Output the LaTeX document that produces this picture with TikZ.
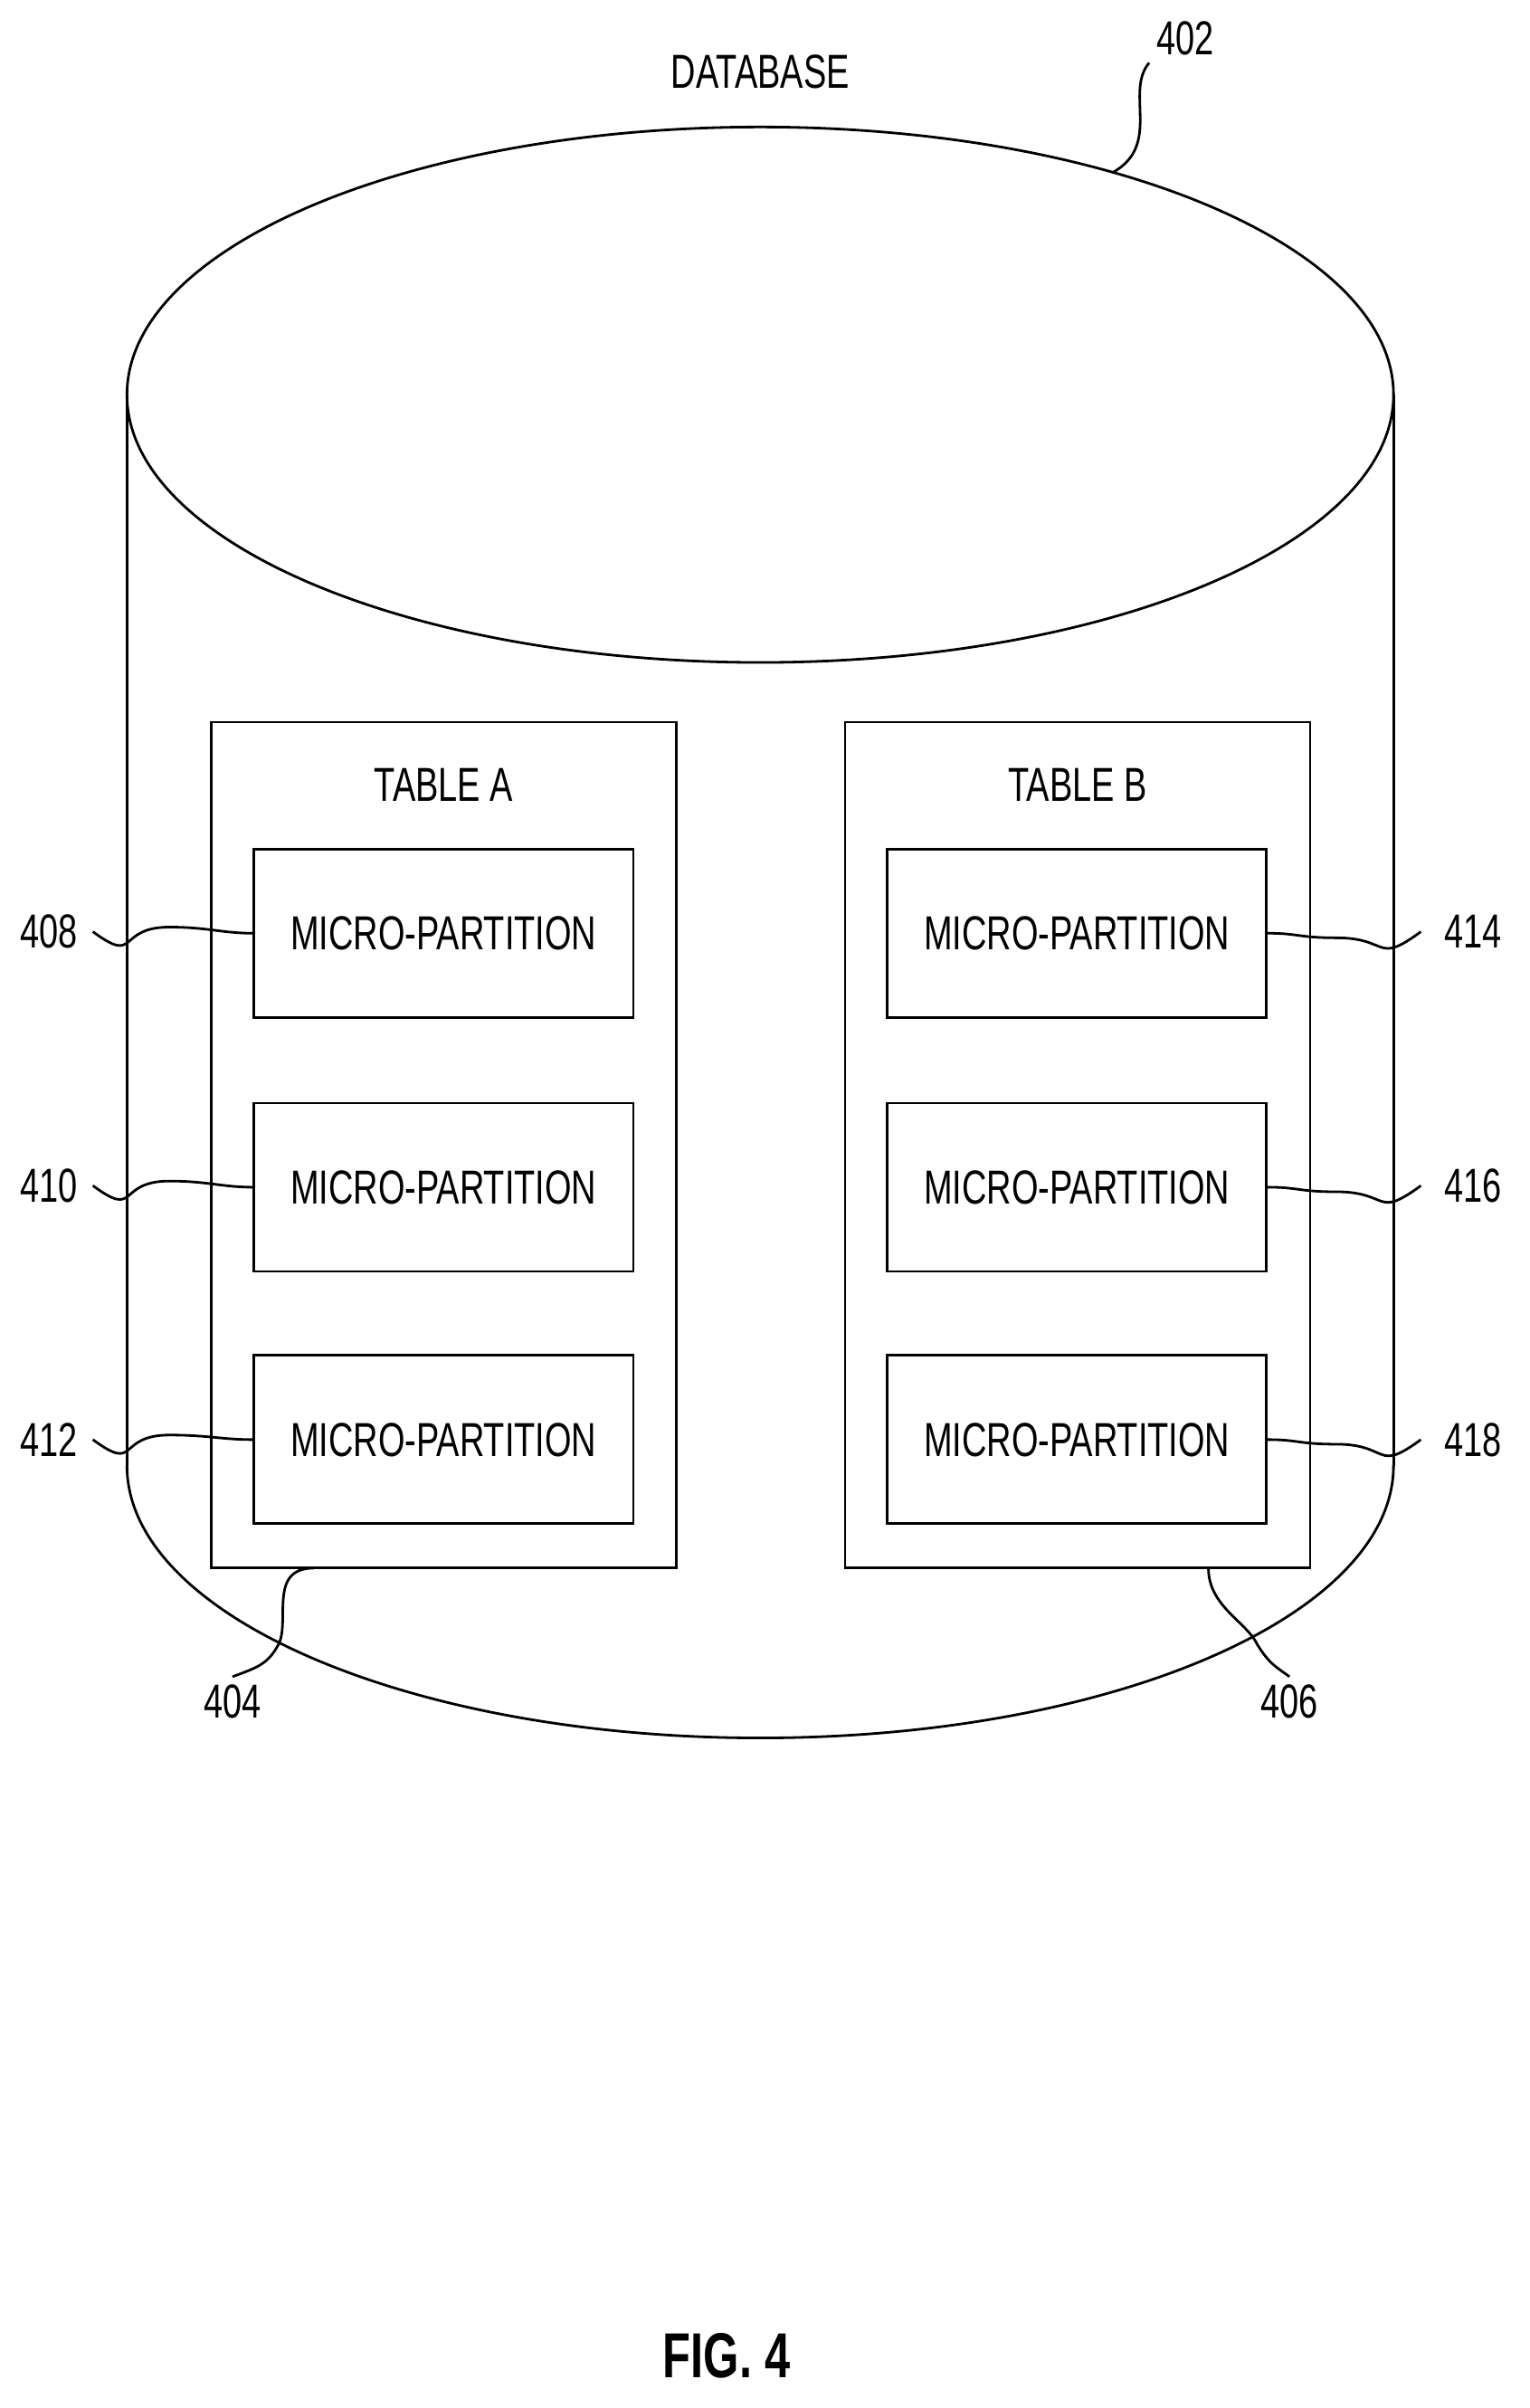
\documentclass[tikz,border=0pt]{standalone}
\usepackage{fontspec}
\setmainfont{Liberation Sans}[FakeStretch=0.72]
\begin{document}
\begin{tikzpicture}[x=0.0169cm, y=-0.0169cm, line width=0.8pt,
    tablebox/.style={draw, minimum width=304*0.0169cm, minimum height=553*0.0169cm, inner sep=0pt},
    partbox/.style={draw, minimum width=248*0.0169cm, minimum height=110*0.0169cm, font=\fontsize{15}{18}\selectfont},
    reflabel/.style={font=\fontsize{15}{18}\selectfont, inner sep=2pt},
    squig/.style={line width=0.8pt}]
	\useasboundingbox (0,0) rectangle (1000,1574);
	% cylinder
	\draw (83,958) -- (83,258) (911,258) -- (911,958);
	\draw (83,958) arc[start angle=180, end angle=360, x radius=414, y radius=-178];
	\draw (497,258) ellipse[x radius=414, y radius=175];
	\node[reflabel] (db) at (497,47) {DATABASE};
	\node[reflabel] (l402) at (775,25) {402};
	\coordinate (c402) at (727,113);
	\draw[squig] (c402) .. controls (760,95) and (735,60) .. (l402.south west);
	% tables
	\node[tablebox] (ta) at (290,748.5) {};
	\node[tablebox] (tb) at (704.5,748.5) {};
	\node[reflabel] at (290,513) {TABLE A};
	\node[reflabel] at (704.5,513) {TABLE B};
	\node[partbox] (m408) at (290,610) {MICRO-PARTITION};
	\node[partbox] (m410) at (290,776) {MICRO-PARTITION};
	\node[partbox] (m412) at (290,941) {MICRO-PARTITION};
	\node[partbox] (m414) at (704,610) {MICRO-PARTITION};
	\node[partbox] (m416) at (704,776) {MICRO-PARTITION};
	\node[partbox] (m418) at (704,941) {MICRO-PARTITION};
	\node[reflabel] (l408) at (32,609) {408};
	\node[reflabel] (l410) at (32,775) {410};
	\node[reflabel] (l412) at (32,941) {412};
	\node[reflabel] (l414) at (963,609) {414};
	\node[reflabel] (l416) at (963,775) {416};
	\node[reflabel] (l418) at (963,941) {418};
	\foreach \n in {408,410,412}
		\draw[squig] (l\n.east) ++(5,0) .. controls +(30,22) and +(-35,0) .. ++(50,-3)
			.. controls +(25,0) and +(-20,0) .. (m\n.west);
	\foreach \n in {414,416,418}
		\draw[squig] (m\n.east) .. controls +(20,0) and +(-25,0) .. ++(45,3)
			.. controls +(35,0) and +(-30,22) .. ([xshift=-5pt]l\n.west);
	\node[reflabel] (l404) at (152,1112) {404};
	\node[reflabel] (l406) at (843,1112) {406};
	\coordinate (c404) at (205,1025);
	\coordinate (c406) at (790,1025);
	\draw[squig] (c404) .. controls (175,1025) and (190,1060) .. (182,1075) .. controls (175,1088) and (168,1090) .. (l404.north);
	\draw[squig] (c406) .. controls (790,1050) and (815,1060) .. (822,1075) .. controls (830,1088) and (835,1090) .. (l406.north);
	\node[font=\bfseries\fontsize{20}{24}\selectfont] (fig) at (475,1540) {FIG. 4};
\end{tikzpicture}
\end{document}
